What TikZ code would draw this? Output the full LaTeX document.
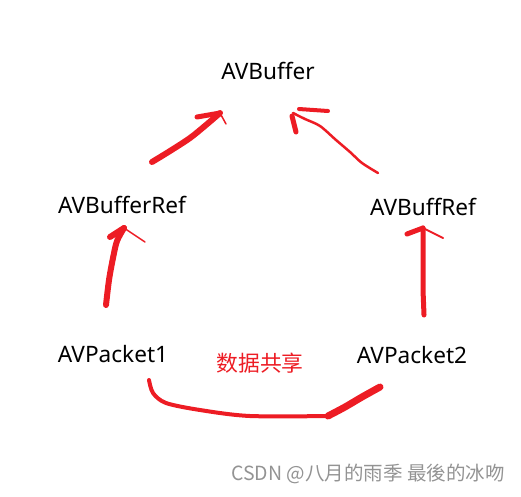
\documentclass[tikz,border=0pt]{standalone}
\usepackage{fontspec}
\setmainfont{Noto Sans}
\newfontfamily\cjk{Noto Sans CJK SC}
\definecolor{paintred}{HTML}{ED1C24}
\usetikzlibrary{arrows.meta}

\begin{document}
\begin{tikzpicture}[x = 1pt, y = -1pt,
	lbl/.style = {font = \fontsize{22.6}{26}\selectfont, inner sep = 0pt},
	stroke/.style = {paintred, line cap = round, line join = round}]
	%	canvas
	\useasboundingbox (0, 0) rectangle (521, 496);

	%	names
	\node[lbl] (buf) at (268, 71) {AVBuffer};
	\node[lbl] (ref1) at (122, 205) {AVBufferRef};
	\node[lbl] (ref2) at (423, 207) {AVBuffRef};
	\node[lbl] (pkt1) at (113, 354) {AVPacket1};
	\node[lbl] (pkt2) at (412, 355) {AVPacket2};
	\node[lbl, paintred, font = \cjk\fontsize{21.8}{26}\selectfont] (share) at (260, 363) {数据共享};
	\node[inner sep = 0pt, gray!85, font = \cjk\fontsize{19.5}{22}\selectfont] (mark) at (368, 474) {CSDN @八月的雨季 最後的冰吻};

	%	ends of the strokes
	\coordinate (a1) at (152, 162);
	\coordinate (t1) at (220, 113);
	\coordinate (a2) at (378, 173);
	\coordinate (t2) at (293, 113);
	\coordinate (a3) at (106, 305);
	\coordinate (t3) at (124, 228);
	\coordinate (a4) at (424, 315);
	\coordinate (t4) at (423, 228);
	\coordinate (b1) at (149, 380);
	\coordinate (b2) at (380, 387);

	%	AVBufferRef -> AVBuffer
	\draw[stroke, line width = 6] plot[smooth] coordinates {(a1) (170, 151) (190, 138) (206, 125) (t1)};
	\draw[stroke, line width = 5] (197, 117) -- (t1);
	\draw[stroke, line width = 1.5] (t1) -- (226, 124);

	%	AVBuffRef -> AVBuffer
	\draw[stroke, line width = 2.5] plot[smooth] coordinates {(a2) (362, 163) (350, 152) (336, 140) (320, 126) (305, 119) (t2)};
	\draw[stroke, line width = 4] (299, 109) -- (328, 111);
	\draw[stroke, line width = 5] (292, 116) -- (296, 132);

	%	AVPacket1 -> AVBufferRef
	\draw[stroke, line width = 6] plot[smooth] coordinates {(a3) (109, 280) (113, 258) (117, 241) (t3)};
	\draw[stroke, line width = 6] (110, 237) -- (t3);
	\draw[stroke, line width = 1.5] (t3) -- (145, 242);

	%	AVPacket2 -> AVBuffRef
	\draw[stroke, line width = 5] (a4) -- (423, 290) -- (t4);
	\draw[stroke, line width = 5] (407, 234) -- (t4);
	\draw[stroke, line width = 2] (t4) -- (443, 238);

	%	boogje onder
	\draw[stroke, line width = 4] plot[smooth] coordinates {(b1) (153, 393) (166, 403) (200, 410) (250, 416) (330, 416)};
	\draw[stroke, line width = 7] plot[smooth] coordinates {(328, 416) (345, 407) (362, 397) (b2)};
\end{tikzpicture}
\end{document}
